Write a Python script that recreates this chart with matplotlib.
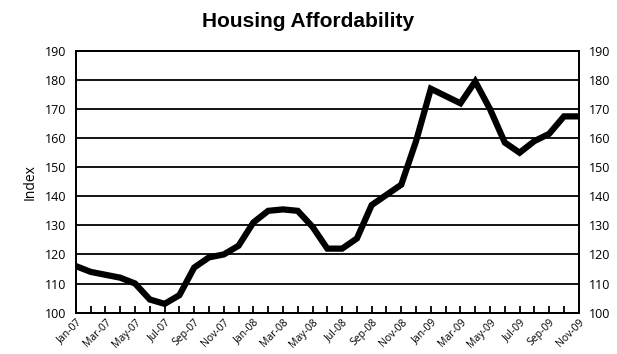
import matplotlib.pyplot as plt
import numpy as np

# monthly index, Jan-07 .. Nov-09
months = ["Jan-07", "Feb-07", "Mar-07", "Apr-07", "May-07", "Jun-07", "Jul-07", "Aug-07",
          "Sep-07", "Oct-07", "Nov-07", "Dec-07", "Jan-08", "Feb-08", "Mar-08", "Apr-08",
          "May-08", "Jun-08", "Jul-08", "Aug-08", "Sep-08", "Oct-08", "Nov-08", "Dec-08",
          "Jan-09", "Feb-09", "Mar-09", "Apr-09", "May-09", "Jun-09", "Jul-09", "Aug-09",
          "Sep-09", "Oct-09", "Nov-09"]
index_values = [116, 114, 113, 112, 110, 104.5, 103, 106, 115.5, 119, 120, 123,
                131, 135, 135.5, 135, 129.5, 122, 122, 125.5, 137, 140.5, 144, 159,
                177, 174.5, 172, 179.5, 170, 158.5, 155, 159, 161.5, 167.5, 167.5]
y_ticks = list(range(100, 191, 10))

tick_font = ["Open Sans", "DejaVu Sans"]

fig = plt.figure(figsize=(6.17, 3.54), dpi=100)
ax = fig.add_axes([0.123, 0.117, 0.815, 0.739])

x = np.arange(len(months))
ax.plot(x, index_values, color="black", linewidth=4.5, solid_joinstyle="miter", zorder=3)

ax.set_xlim(0, len(months) - 1)
ax.set_ylim(100, 190)
for v in y_ticks:
    ax.axhline(v, color="black", linewidth=1.3, zorder=1)

ax.set_yticks(y_ticks)
ax.set_yticklabels([str(v) for v in y_ticks], fontsize=9, family=tick_font)
ax.tick_params(axis="y", length=0, pad=7)

ax.set_xticks(x)
ax.set_xticklabels([m if i % 2 == 0 else "" for i, m in enumerate(months)],
                   rotation=45, ha="right", rotation_mode="anchor",
                   fontsize=7.5, family=tick_font)
ax.tick_params(axis="x", direction="in", length=5, width=1.3, pad=3)

ax2 = ax.twinx()
ax2.set_ylim(100, 190)
ax2.set_yticks(y_ticks)
ax2.set_yticklabels([str(v) for v in y_ticks], fontsize=9, family=tick_font)
ax2.tick_params(axis="y", length=0, pad=7)

for a in (ax, ax2):
    for s in a.spines.values():
        s.set_linewidth(1.3)

ax.set_ylabel("Index", fontsize=10, family=tick_font, labelpad=5)
fig.suptitle("Housing Affordability", x=0.5, y=0.965, fontsize=15, fontweight="bold",
             family=["Liberation Sans", "DejaVu Sans"])

fig.savefig("out.png", dpi=100)
